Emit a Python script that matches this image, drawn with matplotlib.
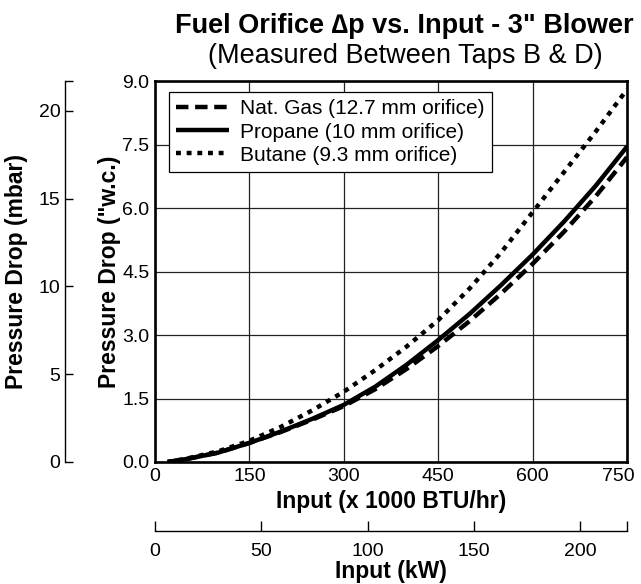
import matplotlib
matplotlib.use("Agg")
import matplotlib.pyplot as plt
import matplotlib.transforms as mtransforms
from matplotlib.ticker import FixedLocator

plt.rcParams["font.family"] = ["Liberation Sans", "DejaVu Sans"]

# ── data ─────────────────────────────────────────────────────────────────────
input_kbtu = [20, 50, 100, 150, 200, 250, 300, 350, 400, 450, 500, 550, 600, 650, 700, 750]
nat_gas_wc = [0.0, 0.07, 0.22, 0.45, 0.71, 1.00, 1.32, 1.72, 2.20, 2.74, 3.33, 3.98, 4.68, 5.44, 6.27, 7.20]
propane_wc = [0.0, 0.07, 0.22, 0.45, 0.72, 1.02, 1.35, 1.78, 2.30, 2.88, 3.50, 4.18, 4.90, 5.68, 6.52, 7.45]
butane_wc = [0.0, 0.08, 0.25, 0.50, 0.83, 1.22, 1.66, 2.17, 2.73, 3.35, 4.10, 4.95, 5.90, 6.85, 7.80, 8.80]

series_labels = ["Nat. Gas (12.7 mm orifice)", "Propane (10 mm orifice)", "Butane (9.3 mm orifice)"]

x_ticks = [0, 150, 300, 450, 600, 750]
y_ticks = [0.0, 1.5, 3.0, 4.5, 6.0, 7.5, 9.0]
mbar_ticks = [0, 5, 10, 15, 20]
kw_ticks = [0, 50, 100, 150, 200]

TICK_FS = 14.0
LABEL_FS = 16.5

fig = plt.figure(figsize=(6.41, 5.84), dpi=100)
ax = fig.add_axes([155 / 641, 122 / 584, 472 / 641, 381 / 584])

lw = 3.2
ax.plot(input_kbtu, nat_gas_wc, color="black", lw=lw, dashes=(2.8, 1.5), label=series_labels[0])
ax.plot(input_kbtu, propane_wc, color="black", lw=lw, solid_capstyle="butt", label=series_labels[1])
ax.plot(input_kbtu, butane_wc, color="black", lw=lw, dashes=(1.1, 1.3), label=series_labels[2])

ax.set_xlim(0, 750)
ax.set_ylim(0, 9.0)
ax.set_xticks(x_ticks)
ax.set_yticks(y_ticks)
ax.set_yticklabels([f"{v:.1f}" for v in y_ticks])
ax.tick_params(length=0, labelsize=TICK_FS, pad=4)
ax.grid(True, color="#222222", lw=0.9)
ax.set_axisbelow(True)
for sp in ax.spines.values():
    sp.set_linewidth(1.9)
ax.set_xlabel("Input (x 1000 BTU/hr)", fontsize=LABEL_FS, fontweight="bold", labelpad=4)
ax.set_ylabel('Pressure Drop ("w.c.)', fontsize=LABEL_FS, fontweight="bold", labelpad=1)

# the last x tick label sits against the figure edge, nudge it left a little
fig.canvas.draw()
last_lbl = ax.get_xticklabels()[-1]
last_lbl.set_transform(last_lbl.get_transform() +
                       mtransforms.ScaledTranslation(-6 / 72, 0, fig.dpi_scale_trans))

leg = ax.legend(loc="upper left", bbox_to_anchor=(0.03, 0.971), borderaxespad=0,
                fontsize=15, frameon=True, fancybox=False, framealpha=1,
                edgecolor="black", handlelength=2.5, handletextpad=0.55,
                labelspacing=0.2, borderpad=0.35)
leg.get_frame().set_linewidth(0.9)

# ── secondary y axis: mbar ───────────────────────────────────────────────────
ax_mbar = ax.twinx()
ax_mbar.set_ylim(0, 21.7)
ax_mbar.yaxis.set_ticks_position("left")
ax_mbar.yaxis.set_label_position("left")
ax_mbar.spines["left"].set_position(("outward", 65))
ax_mbar.spines["left"].set_linewidth(1.0)
for side in ["right", "top", "bottom"]:
    ax_mbar.spines[side].set_visible(False)
ax_mbar.set_yticks(mbar_ticks)
ax_mbar.yaxis.set_minor_locator(FixedLocator([21.7]))
ax_mbar.tick_params(axis="y", which="both", direction="in", length=6, width=1.0,
                    labelsize=TICK_FS, pad=3)
ax_mbar.set_ylabel("Pressure Drop (mbar)", fontsize=LABEL_FS, fontweight="bold", labelpad=8)

# ── secondary x axis: kW ─────────────────────────────────────────────────────
ax_kw = ax.twiny()
ax_kw.set_xlim(0, 222)
ax_kw.xaxis.set_ticks_position("bottom")
ax_kw.xaxis.set_label_position("bottom")
ax_kw.spines["bottom"].set_position(("outward", 50))
ax_kw.spines["bottom"].set_linewidth(1.0)
for side in ["right", "top", "left"]:
    ax_kw.spines[side].set_visible(False)
ax_kw.set_xticks(kw_ticks)
ax_kw.xaxis.set_minor_locator(FixedLocator([222]))
ax_kw.tick_params(axis="x", which="both", direction="in", length=7, width=1.0,
                  labelsize=TICK_FS, pad=8)
ax_kw.set_xlabel("Input (kW)", fontsize=LABEL_FS, fontweight="bold", labelpad=0)

fig.text(404 / 641, 1 - 33 / 584, "Fuel Orifice \u2206p vs. Input - 3\" Blower",
         ha="center", va="baseline", fontsize=19.5, fontweight="bold")
fig.text(405 / 641, 1 - 63 / 584, "(Measured Between Taps B & D)",
         ha="center", va="baseline", fontsize=19.5)

fig.savefig("out.png", dpi=100)
